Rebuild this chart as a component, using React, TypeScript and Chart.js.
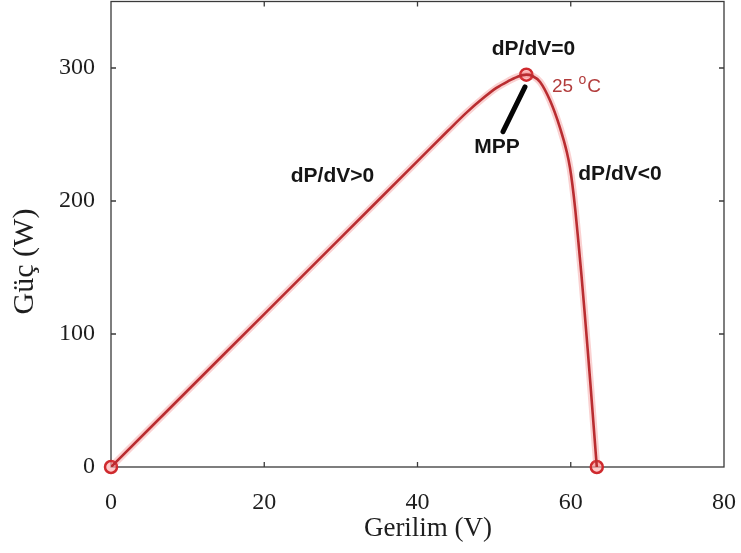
import React, { useEffect, useRef } from "react";
import { Chart, registerables } from "chart.js";

Chart.register(...registerables);

// Power–voltage curve (25 °C)
const voltage = [0, 10, 20, 30, 40, 44, 46.5, 48.5, 50.3, 51.8, 53.0, 54.2, 55.0, 56.0, 57.3, 58.6, 59.5, 59.9, 60.2, 60.6, 61.0, 61.4, 61.8, 62.2, 62.6, 63.0, 63.4];
const power = [0, 57.5, 115, 172.5, 230, 253, 267, 277, 285, 290, 293.3, 295, 294, 289.5, 275.5, 255, 236.5, 225, 213, 193, 169, 144, 117, 89, 60, 30, 0];

// Marked points: short-circuit, MPP, open-circuit
const markerV = [0, 54.2, 63.4];
const markerP = [0, 295, 0];

const xTicks = [0, 20, 40, 60, 80];
const yTicks = [0, 100, 200, 300];

const xTitle = "Gerilim (V)";
const yTitle = "Güç (W)";

// Annotations (anchored in data coordinates)
const labelTexts = ["dP/dV=0", "MPP", "dP/dV>0", "dP/dV<0"];
const labelV = [55.14, 50.37, 28.9, 66.43];
const labelP = [313.8, 240.5, 218.4, 220.3];
const tempText = ["25", "o", "C"];
const tempAnchor = [57.55, 285.8];
const mppLeader = [
  [54.03, 285.8],
  [51.16, 252.1],
];

const SERIF = "'Liberation Serif', 'Times New Roman', serif";
const SANS = "'Liberation Sans', Arial, sans-serif";

const framePlugin = {
  id: "frameAndNotes",
  beforeDatasetsDraw(chart: any) {
    const { ctx, chartArea: a, scales } = chart;
    const xs = scales.x;
    const ys = scales.y;
    ctx.save();
    ctx.strokeStyle = "#3a3a3a";
    ctx.lineWidth = 1.3;
    ctx.strokeRect(a.left, a.top, a.right - a.left, a.bottom - a.top);
    const tl = 5;
    ctx.beginPath();
    xTicks.forEach((t) => {
      if (t === xTicks[0] || t === xTicks[xTicks.length - 1]) return;
      const px = xs.getPixelForValue(t);
      ctx.moveTo(px, a.bottom);
      ctx.lineTo(px, a.bottom - tl);
      ctx.moveTo(px, a.top);
      ctx.lineTo(px, a.top + tl);
    });
    yTicks.forEach((t) => {
      if (t === 0) return;
      const py = ys.getPixelForValue(t);
      ctx.moveTo(a.left, py);
      ctx.lineTo(a.left + tl, py);
      ctx.moveTo(a.right, py);
      ctx.lineTo(a.right - tl, py);
    });
    ctx.stroke();

    // axis titles
    ctx.fillStyle = "#1e1e1e";
    ctx.textAlign = "center";
    ctx.textBaseline = "middle";
    ctx.font = `27px ${SERIF}`;
    ctx.fillText(xTitle, a.left + 317, a.bottom + 62);
    ctx.save();
    ctx.font = `30px ${SERIF}`;
    ctx.translate(a.left - 86, a.top + 260);
    ctx.rotate(-Math.PI / 2);
    ctx.fillText(yTitle, 0, 0);
    ctx.restore();
    ctx.restore();
  },
  afterDatasetsDraw(chart: any) {
    const { ctx, scales } = chart;
    const xs = scales.x;
    const ys = scales.y;
    ctx.save();
    // MPP leader
    ctx.strokeStyle = "#050505";
    ctx.lineWidth = 5;
    ctx.lineCap = "round";
    ctx.beginPath();
    ctx.moveTo(xs.getPixelForValue(mppLeader[0][0]), ys.getPixelForValue(mppLeader[0][1]));
    ctx.lineTo(xs.getPixelForValue(mppLeader[1][0]), ys.getPixelForValue(mppLeader[1][1]));
    ctx.stroke();

    ctx.fillStyle = "#151515";
    ctx.font = `bold 21px ${SANS}`;
    ctx.textAlign = "center";
    ctx.textBaseline = "middle";
    labelTexts.forEach((t, i) => {
      ctx.fillText(t, xs.getPixelForValue(labelV[i]), ys.getPixelForValue(labelP[i]));
    });

    // temperature label
    ctx.fillStyle = "#b23c3c";
    ctx.textAlign = "left";
    let x = xs.getPixelForValue(tempAnchor[0]);
    const y = ys.getPixelForValue(tempAnchor[1]);
    ctx.font = `19px ${SANS}`;
    ctx.fillText(tempText[0], x, y);
    x += ctx.measureText(tempText[0] + " ").width;
    ctx.font = `14px ${SANS}`;
    ctx.fillText(tempText[1], x, y - 7);
    x += ctx.measureText(tempText[1]).width + 1;
    ctx.font = `19px ${SANS}`;
    ctx.fillText(tempText[2], x, y);
    ctx.restore();
  },
};

export default function App() {
  const ref = useRef<HTMLCanvasElement | null>(null);
  useEffect(() => {
    if (!ref.current) return;
    const curve = voltage.map((v, i) => ({ x: v, y: power[i] }));
    const marks = markerV.map((v, i) => ({ x: v, y: markerP[i] }));
    const chart = new Chart(ref.current, {
      type: "line",
      data: {
        datasets: [
          {
            data: curve,
            borderColor: "rgba(236, 90, 90, 0.28)",
            borderWidth: 7,
            pointRadius: 0,
            cubicInterpolationMode: "monotone",
            fill: false,
          },
          {
            data: curve,
            borderColor: "#a61d22",
            borderWidth: 2.6,
            pointRadius: 0,
            cubicInterpolationMode: "monotone",
            fill: false,
          },
          {
            data: marks,
            showLine: false,
            pointRadius: 6,
            pointBorderWidth: 2.5,
            pointBorderColor: "#cf2a2e",
            pointBackgroundColor: "rgba(255, 175, 175, 0.65)",
            clip: false,
          } as any,
        ],
      },
      options: {
        animation: false,
        responsive: true,
        maintainAspectRatio: false,
        layout: { padding: { left: 0, right: 17, top: 1, bottom: 0 } },
        plugins: { legend: { display: false }, tooltip: { enabled: false } },
        events: [],
        scales: {
          x: {
            type: "linear",
            min: 0,
            max: 80,
            grid: { display: false, drawTicks: false },
            border: { display: false },
            ticks: {
              stepSize: 20,
              includeBounds: false,
              padding: 21,
              color: "#1e1e1e",
              font: { family: SERIF, size: 24 },
            },
            afterFit: (s: any) => {
              s.height = 86;
              s.paddingLeft = 0;
              s.paddingRight = 0;
            },
          },
          y: {
            type: "linear",
            min: 0,
            max: 350,
            grid: { display: false, drawTicks: false },
            border: { display: false },
            ticks: {
              stepSize: 100,
              includeBounds: false,
              padding: 16,
              color: "#1e1e1e",
              font: { family: SERIF, size: 24 },
            },
            afterFit: (s: any) => {
              s.width = 111;
              s.paddingTop = 0;
              s.paddingBottom = 0;
            },
          },
        },
      },
      plugins: [framePlugin],
    });
    return () => chart.destroy();
  }, []);
  return (
    <div style={{ position: "absolute", left: 0, top: -7, width: 741, height: 560, background: "#fff" }}>
      <canvas ref={ref} />
    </div>
  );
}
